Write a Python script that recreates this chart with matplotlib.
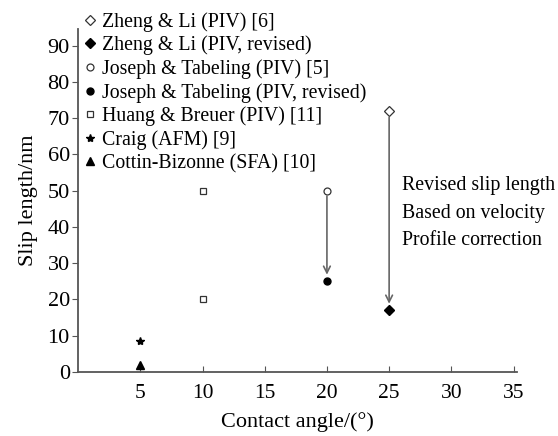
import matplotlib
matplotlib.use('Agg')
import matplotlib.pyplot as plt

plt.rcParams['font.family'] = ['Liberation Serif', 'DejaVu Serif']

# data
zheng_x, zheng_y = [25], [72]
zheng_rev_x, zheng_rev_y = [25], [17]
joseph_x, joseph_y = [20], [50]
joseph_rev_x, joseph_rev_y = [20], [25]
huang_x, huang_y = [10, 10], [50, 20]
craig_x, craig_y = [5], [8.5]
cottin_x, cottin_y = [5], [2]

xticks = [5, 10, 15, 20, 25, 30, 35]
yticks = [0, 10, 20, 30, 40, 50, 60, 70, 80, 90]
note = ['Revised slip length', 'Based on velocity', 'Profile correction']

axc = '#555555'
fig = plt.figure(figsize=(5.58, 4.36), dpi=100)
ax = fig.add_axes([0.14, 0.147, 0.787, 0.786])

ax.plot(zheng_x, zheng_y, 'D', mfc='white', mec='#333333', ms=5, mew=0.9, label='Zheng & Li (PIV) [6]')
ax.plot(zheng_rev_x, zheng_rev_y, 'D', color='black', ms=5, label='Zheng & Li (PIV, revised)')
ax.plot(joseph_x, joseph_y, 'o', mfc='white', mec='#333333', ms=5, mew=0.9, label='Joseph & Tabeling (PIV) [5]')
ax.plot(joseph_rev_x, joseph_rev_y, 'o', color='black', ms=5, label='Joseph & Tabeling (PIV, revised)')
ax.plot(huang_x, huang_y, 's', mfc='white', mec='#333333', ms=5, mew=0.9, label='Huang & Breuer (PIV) [11]')
ax.plot(craig_x, craig_y, '*', color='black', ms=6, label='Craig (AFM) [9]')
ax.plot(cottin_x, cottin_y, '^', color='black', ms=6, label='Cottin-Bizonne (SFA) [10]')

# arrows showing the revision
for x0, y0, y1 in [(20, 48.5, 26.8), (25, 70.2, 18.8)]:
    ax.annotate('', xy=(x0, y1), xytext=(x0, y0),
                arrowprops=dict(arrowstyle='->', color='#666666', lw=1.2,
                                shrinkA=0, shrinkB=0, mutation_scale=12))

for i, t in enumerate(note):
    ax.text(26.0, 51.5 - i * 7.7, t, fontsize=14.3, ha='left', va='center')

ax.set_xlim(0, 35.3)
ax.set_ylim(0, 94.5)
ax.set_xticks(xticks)
ax.set_yticks(yticks)
ax.tick_params(axis='x', direction='in', length=4, color=axc, labelsize=15.5, pad=9)
ax.tick_params(axis='y', direction='out', length=4, color=axc, labelsize=16, pad=2)
for s in ['top', 'right']:
    ax.spines[s].set_visible(False)
for s in ['left', 'bottom']:
    ax.spines[s].set_color(axc)
    ax.spines[s].set_linewidth(1.3)

ax.set_xlabel('Contact angle/(°)', fontsize=16, labelpad=6)
ax.set_ylabel('Slip length/nm', fontsize=16, labelpad=7)

leg = ax.legend(loc='upper left', bbox_to_anchor=(0.0, 1.068), frameon=False,
                fontsize=14.3, handlelength=0.6, handletextpad=0.3,
                labelspacing=0.2, borderaxespad=0, borderpad=0.3)

fig.savefig('out.png', dpi=100)
